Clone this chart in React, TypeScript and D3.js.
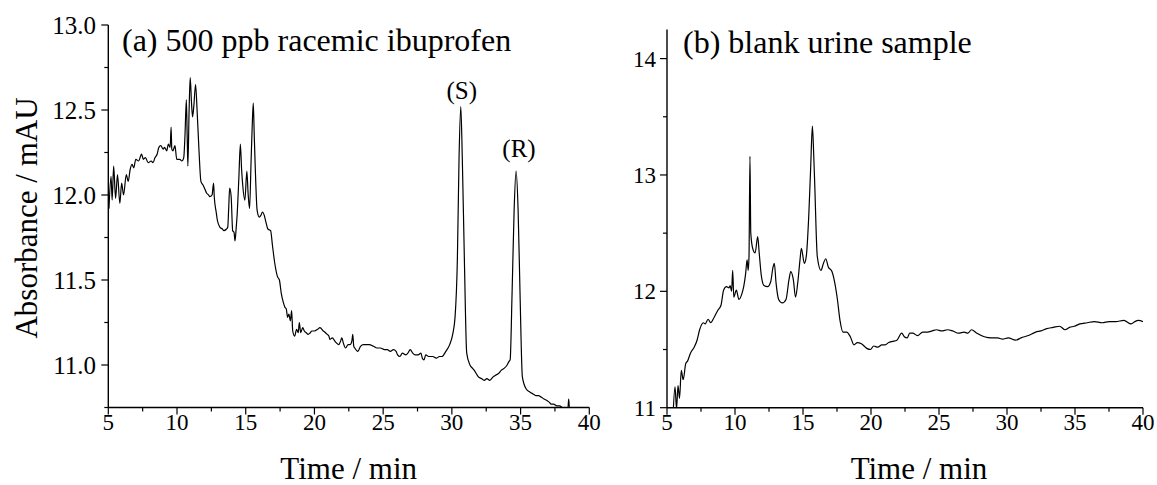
import React from "react";
import * as d3 from "d3";

// (a) 500 ppb racemic ibuprofen
const timeA = [5.05,5.2,5.28,5.39,5.53,5.67,5.84,5.97,6.11,6.31,6.45,6.59,6.73,6.85,7.0,7.2,7.42,7.55,7.7,7.9,8.12,8.25,8.4,8.55,8.68,8.82,9.0,9.09,9.25,9.37,9.5,9.57,9.62,9.7,9.85,9.98,10.2,10.35,10.49,10.58,10.68,10.74,10.79,10.88,10.96,11.05,11.13,11.22,11.35,11.46,11.6,11.74,11.88,12.0,12.16,12.3,12.38,12.55,12.66,12.71,12.85,12.94,13.13,13.3,13.41,13.6,13.69,13.76,13.83,13.94,14.05,14.15,14.22,14.3,14.38,14.5,14.61,14.7,14.77,14.94,15.08,15.18,15.28,15.39,15.47,15.55,15.62,15.69,15.83,15.99,16.1,16.22,16.35,16.47,16.61,16.81,16.95,17.11,17.31,17.45,17.59,17.73,17.85,17.95,18.05,18.14,18.25,18.34,18.42,18.56,18.7,18.82,18.9,19.0,19.15,19.26,19.4,19.54,19.7,19.81,20.0,20.23,20.4,20.65,20.8,20.93,21.05,21.12,21.3,21.49,21.6,21.76,21.9,21.99,22.1,22.27,22.45,22.6,22.72,22.79,22.86,22.93,23.16,23.35,23.57,23.8,23.99,24.3,24.55,24.8,25.1,25.3,25.52,25.75,25.94,26.05,26.22,26.4,26.64,26.8,26.97,27.15,27.33,27.55,27.75,27.85,27.97,28.1,28.31,28.6,28.86,29.1,29.28,29.56,29.84,30.06,30.23,30.4,30.52,30.65,30.76,30.91,31.08,31.32,31.51,31.7,31.93,32.15,32.35,32.55,32.76,33.0,33.18,33.4,33.6,33.8,34.02,34.15,34.24,34.38,34.53,34.67,34.82,34.96,35.13,35.4,35.69,35.9,36.11,36.3,36.52,36.7,36.94,37.1,37.22,37.4,37.64,37.85,38.05,38.3,38.45,38.5,38.55,38.75];
const absA = [11.92,12.11,11.97,12.17,11.98,12.12,11.95,12.07,12.0,12.12,12.08,12.15,12.18,12.16,12.21,12.2,12.24,12.21,12.22,12.19,12.2,12.19,12.22,12.24,12.28,12.29,12.27,12.28,12.26,12.3,12.28,12.4,12.27,12.26,12.29,12.21,12.21,12.2,12.22,12.35,12.56,12.35,12.17,12.5,12.69,12.55,12.46,12.52,12.65,12.5,12.26,12.08,12.06,12.04,12.01,12.0,11.99,12.0,12.07,11.99,11.9,11.85,11.81,11.8,11.79,11.8,11.81,11.92,12.04,11.99,11.79,11.78,11.73,11.8,11.89,12.1,12.3,12.15,12.07,11.97,12.14,12.0,11.92,12.2,12.4,12.54,12.35,12.17,11.91,11.87,11.88,11.9,11.88,11.84,11.8,11.79,11.7,11.6,11.52,11.5,11.42,11.37,11.34,11.33,11.28,11.3,11.26,11.32,11.2,11.17,11.21,11.19,11.25,11.19,11.22,11.2,11.19,11.18,11.19,11.2,11.2,11.21,11.22,11.2,11.19,11.18,11.17,11.15,11.16,11.14,11.13,11.12,11.14,11.16,11.13,11.1,11.12,11.12,11.14,11.18,11.11,11.1,11.08,11.11,11.12,11.12,11.12,11.11,11.1,11.1,11.09,11.09,11.08,11.09,11.08,11.06,11.05,11.07,11.06,11.07,11.09,11.07,11.06,11.06,11.07,11.04,11.03,11.06,11.05,11.05,11.04,11.05,11.05,11.08,11.12,11.18,11.28,11.62,12.21,12.52,12.21,11.62,11.07,11.0,10.98,10.96,10.93,10.92,10.91,10.92,10.91,10.93,10.94,10.95,10.97,10.98,11.0,11.02,11.03,11.42,11.91,12.14,11.91,11.42,10.93,10.86,10.84,10.83,10.82,10.82,10.81,10.8,10.79,10.78,10.77,10.77,10.76,10.76,10.75,10.75,10.75,10.8,10.75,10.75];

// (b) blank urine sample
const timeB = [5.45,5.59,5.7,5.81,5.92,6.05,6.19,6.38,6.51,6.73,7.0,7.21,7.4,7.67,7.81,8.02,8.21,8.48,8.75,8.97,9.16,9.37,9.56,9.64,9.75,9.83,9.91,10.1,10.29,10.51,10.64,10.78,10.89,10.97,11.03,11.1,11.16,11.32,11.48,11.67,11.78,11.94,12.13,12.4,12.62,12.8,12.89,13.02,13.21,13.48,13.75,13.97,14.1,14.29,14.45,14.61,14.78,14.88,15.1,15.24,15.42,15.56,15.69,15.78,15.86,16.05,16.32,16.5,16.67,16.86,17.13,17.34,17.53,17.72,17.94,18.21,18.48,18.75,19.0,19.29,19.69,19.96,20.2,20.5,20.8,21.04,21.3,21.58,21.9,22.26,22.45,22.66,22.85,23.07,23.42,23.8,24.15,24.5,24.82,25.2,25.63,26.0,26.44,26.85,27.12,27.39,27.79,28.33,28.87,29.3,29.68,30.09,30.63,31.03,31.57,32.11,32.5,32.92,33.4,33.87,34.27,34.6,34.95,35.35,35.9,36.43,37.0,37.51,38.0,38.59,39.13,39.4,39.67,40.0];
const absB = [10.95,11.18,10.99,11.19,11.08,11.32,11.24,11.38,11.4,11.47,11.52,11.58,11.67,11.73,11.72,11.76,11.73,11.78,11.84,11.88,12.01,12.04,12.03,12.05,12.0,12.18,11.95,12.01,11.93,11.98,12.04,12.15,12.27,12.18,12.3,13.16,12.5,12.36,12.33,12.47,12.33,12.13,12.05,12.04,12.08,12.21,12.24,12.07,11.93,11.9,11.93,12.1,12.17,12.1,11.95,12.07,12.27,12.37,12.24,12.3,12.64,13.05,13.42,13.2,12.93,12.3,12.18,12.24,12.28,12.21,12.17,12.07,11.93,11.75,11.65,11.65,11.61,11.54,11.56,11.55,11.51,11.5,11.53,11.52,11.54,11.54,11.56,11.57,11.58,11.64,11.61,11.6,11.64,11.64,11.62,11.65,11.65,11.66,11.67,11.66,11.67,11.66,11.64,11.65,11.64,11.67,11.64,11.61,11.6,11.6,11.59,11.6,11.58,11.6,11.62,11.65,11.66,11.68,11.69,11.7,11.67,11.69,11.7,11.72,11.73,11.74,11.73,11.74,11.74,11.75,11.72,11.74,11.75,11.74];

const xTicksA = [5, 10, 15, 20, 25, 30, 35, 40];
const xMinorA = [7.5, 12.5, 17.5, 22.5, 27.5, 32.5, 37.5];
const yTicksA = [11.0, 11.5, 12.0, 12.5, 13.0];
const yMinorA = [10.75, 11.25, 11.75, 12.25, 12.75];
const xTicksB = [5, 10, 15, 20, 25, 30, 35, 40];
const xMinorB = [7.5, 12.5, 17.5, 22.5, 27.5, 32.5, 37.5];
const yTicksB = [11, 12, 13, 14];
const yMinorB = [11.5, 12.5, 13.5];

const FONT = "Liberation Serif, Times New Roman, Times, serif";

type PanelProps = {
  id: string;
  times: number[];
  values: number[];
  xr: [number, number];
  yDomain: [number, number];
  yr: [number, number];
  xTicks: number[];
  xMinor: number[];
  yTicks: number[];
  yMinor: number[];
  yFmt: (v: number) => string;
  yFont: number;
  title: string;
  titleX: number;
  titleY: number;
  xLabelX: number;
  labelRight: number;
};

function Panel(p: PanelProps) {
  const x = d3.scaleLinear().domain([5, 40]).range(p.xr);
  const y = d3.scaleLinear().domain(p.yDomain).range(p.yr);
  const pts = p.times.map((t, i) => [t, p.values[i]] as [number, number]);
  const line = d3
    .line<[number, number]>()
    .x((d) => x(d[0]))
    .y((d) => y(d[1]))
    .curve(d3.curveMonotoneX);
  const x0 = p.xr[0];
  const yb = p.yr[0];
  const yt = p.yr[1];
  return (
    <g>
      <defs>
        <clipPath id={p.id}>
          <rect x={x0} y={yt} width={p.xr[1] - x0} height={yb - yt} />
        </clipPath>
      </defs>
      <path d={line(pts) || ""} fill="none" stroke="#000" strokeWidth={1.2} clipPath={`url(#${p.id})`} />
      <line x1={x0} x2={x0} y1={yt} y2={yb} stroke="#000" strokeWidth={1.4} />
      <line x1={x0} x2={p.xr[1]} y1={yb} y2={yb} stroke="#000" strokeWidth={1.4} />
      {p.xTicks.map((t) => (
        <g key={"xt" + t}>
          <line x1={x(t)} x2={x(t)} y1={yb} y2={yb + 7} stroke="#000" strokeWidth={1.2} />
          <text x={x(t)} y={430} textAnchor="middle" fontSize={23} style={{ fontFamily: FONT }}>{t}</text>
        </g>
      ))}
      {p.xMinor.map((t) => (
        <line key={"xm" + t} x1={x(t)} x2={x(t)} y1={yb} y2={yb + 4} stroke="#000" strokeWidth={1.2} />
      ))}
      {p.yTicks.map((v) => (
        <g key={"yt" + v}>
          <line x1={x0 - 7} x2={x0} y1={y(v)} y2={y(v)} stroke="#000" strokeWidth={1.2} />
          <text x={p.labelRight} y={y(v)} dy="0.35em" textAnchor="end" fontSize={p.yFont} style={{ fontFamily: FONT }}>{p.yFmt(v)}</text>
        </g>
      ))}
      {p.yMinor.map((v) => (
        <line key={"ym" + v} x1={x0 - 4} x2={x0} y1={y(v)} y2={y(v)} stroke="#000" strokeWidth={1.2} />
      ))}
      <text x={p.titleX} y={p.titleY} fontSize={32} style={{ fontFamily: FONT }}>{p.title}</text>
      <text x={p.xLabelX} y={479} textAnchor="middle" fontSize={31} style={{ fontFamily: FONT }}>Time / min</text>
    </g>
  );
}

export default function App() {
  return (
    <svg width={1157} height={485} style={{ position: "absolute", left: 0, top: 0, background: "#fff" }}>
      <rect width={1157} height={485} fill="#fff" />
      <Panel
        id="clipA"
        times={timeA}
        values={absA}
        xr={[108.3, 589.3]}
        yDomain={[10.75, 13.0]}
        yr={[407.5, 25]}
        xTicks={xTicksA}
        xMinor={xMinorA}
        yTicks={yTicksA}
        yMinor={yMinorA}
        yFmt={(v) => v.toFixed(1)}
        yFont={25}
        title="(a) 500 ppb racemic ibuprofen"
        titleX={122}
        titleY={51}
        xLabelX={348.7}
        labelRight={96}
      />
      <Panel
        id="clipB"
        times={timeB}
        values={absB}
        xr={[667, 1143]}
        yDomain={[11, 14.25]}
        yr={[407.7, 29.5]}
        xTicks={xTicksB}
        xMinor={xMinorB}
        yTicks={yTicksB}
        yMinor={yMinorB}
        yFmt={(v) => String(v)}
        yFont={23}
        title="(b) blank urine sample"
        titleX={683}
        titleY={53}
        xLabelX={919}
        labelRight={656}
      />
      <text transform="translate(37,218) rotate(-90)" textAnchor="middle" fontSize={31} style={{ fontFamily: FONT }}>Absorbance / mAU</text>
      <text x={461.7} y={99} textAnchor="middle" fontSize={25} style={{ fontFamily: FONT }}>(S)</text>
      <text x={519} y={157} textAnchor="middle" fontSize={25} style={{ fontFamily: FONT }}>(R)</text>
    </svg>
  );
}
